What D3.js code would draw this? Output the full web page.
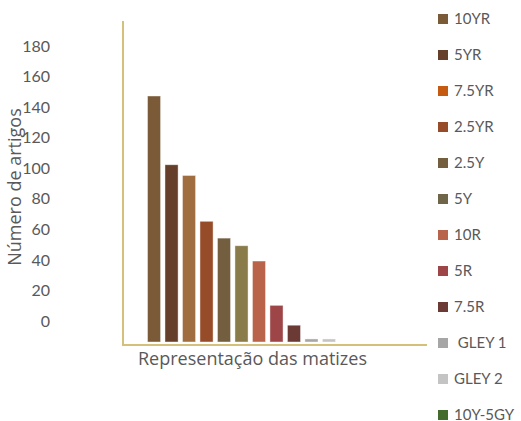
<!DOCTYPE html>
<html>
<head>
<meta charset="utf-8">
<script src="https://cdn.jsdelivr.net/npm/d3@7/dist/d3.min.js"></script>
<style>
  html, body { margin: 0; padding: 0; background: #fff; }
  svg { display: block; font-family: Lato, "Open Sans", sans-serif; }
  .leg text { white-space: pre; }
</style>
</head>
<body>
<svg id="chart" width="521" height="421"></svg>
<script>
// Munsell hues found in the articles and how many articles report each
const hues = ["10YR", "5YR", "7.5YR", "2.5YR", "2.5Y", "5Y", "10R", "5R", "7.5R", " GLEY 1", "GLEY 2", "10Y-5GY"];
const counts = [161, 116, 109, 79, 68, 63, 53, 24, 11, 2, 2, 0];
const barColors = ["#7a5a37", "#653f29", "#a06d41", "#964b29", "#735e3f", "#897b4a", "#b9644a", "#9e4647", "#6b3a35", "#a6a6a6", "#c4c4c4", "#426b2c"];
const legendColors = ["#7a5a37", "#653f29", "#c55a11", "#964b29", "#735e3f", "#6f6548", "#b9644a", "#9e4647", "#6b3a35", "#a6a6a6", "#c4c4c4", "#426b2c"];
const yTicks = [0, 20, 40, 60, 80, 100, 120, 140, 160, 180];
const yTitle = "Número de artigos";
const xTitle = "Representação das matizes";

const svg = d3.select("#chart");
const axisColor = "#d4c07a";
const textColor = "#595959";

const y = d3.scaleLinear().domain([0, 180]).range([342, 342 - 180 * 1.528]);
const x = d3.scaleBand().domain(hues).range([130, 370.5]).paddingInner(0.25).paddingOuter(1);

// bars
svg.append("g").selectAll("rect")
  .data(hues)
  .join("rect")
  .attr("x", d => x(d))
  .attr("width", x.bandwidth())
  .attr("y", (d, i) => y(counts[i]))
  .attr("height", (d, i) => y(0) - y(counts[i]))
  .attr("fill", (d, i) => barColors[i])
  .attr("stroke", "#ffffff")
  .attr("stroke-opacity", 0.55)
  .attr("stroke-width", 0.8);

// value axis labels (set apart from the axis line)
const yAxis = svg.append("g")
  .attr("transform", "translate(50,-21)")
  .call(d3.axisLeft(y).tickValues(yTicks).tickSize(0).tickPadding(0));
yAxis.select(".domain").remove();
yAxis.selectAll("text")
  .attr("fill", textColor)
  .style("font-family", "Lato, 'Open Sans', sans-serif")
  .style("font-size", "16px");

// axis lines
svg.append("line")
  .attr("x1", 123).attr("x2", 123).attr("y1", 21).attr("y2", 346)
  .attr("stroke", axisColor).attr("stroke-width", 2);
svg.append("line")
  .attr("x1", 122).attr("x2", 427).attr("y1", 345).attr("y2", 345)
  .attr("stroke", axisColor).attr("stroke-width", 2);

// axis titles
svg.append("text")
  .attr("transform", "translate(21,187) rotate(-90)")
  .attr("text-anchor", "middle")
  .attr("fill", textColor)
  .style("font-family", "'Open Sans', sans-serif")
  .style("font-size", "18px")
  .text(yTitle);
svg.append("text")
  .attr("x", 252.5).attr("y", 365)
  .attr("text-anchor", "middle")
  .attr("fill", textColor)
  .style("font-family", "'Open Sans', sans-serif")
  .style("font-size", "18px")
  .text(xTitle);

// legend
const leg = svg.append("g").attr("class", "leg");
const items = leg.selectAll("g")
  .data(hues)
  .join("g")
  .attr("transform", (d, i) => `translate(438,${19 + 36 * i})`);
items.append("rect")
  .attr("x", 0).attr("y", -5).attr("width", 10).attr("height", 10)
  .attr("fill", (d, i) => legendColors[i]);
items.append("text")
  .attr("x", 16).attr("y", 4.5)
  .attr("fill", textColor)
  .style("font-size", "15px")
  .text(d => d);
</script>
</body>
</html>
